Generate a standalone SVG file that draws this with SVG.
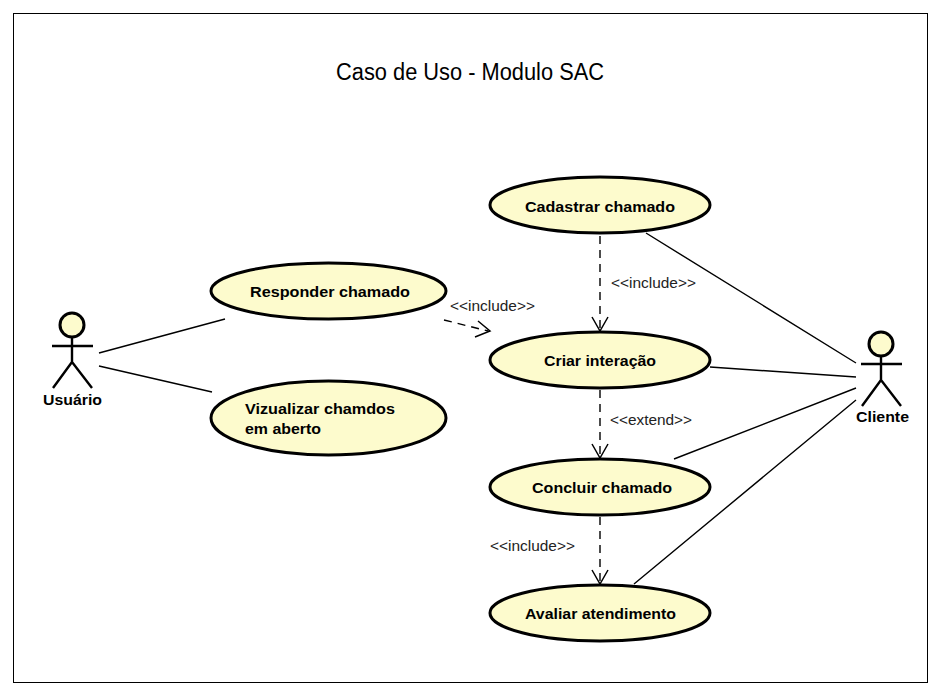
<svg xmlns="http://www.w3.org/2000/svg" width="941" height="694" viewBox="0 0 941 694">
<defs>
<style>
text{font-family:"Liberation Sans",Arial,sans-serif;fill:#000}
.uc{fill:#fdfbcd;stroke:#000;stroke-width:3}
.n{font-size:15.500px;font-weight:bold}
.l{font-size:15px;fill:#222}
.a{stroke:#000;stroke-width:1.4;fill:none}
.d{stroke:#000;stroke-width:1.4;fill:none;stroke-dasharray:8 6}
.h{stroke:#000;stroke-width:1.500;fill:none}
.s{stroke:#000;stroke-width:2.400;fill:none}
</style>
</defs>
<rect width="941" height="694" fill="#fff"/>
<rect x="13.500" y="13.500" width="914" height="669" fill="none" stroke="#000" stroke-width="1"/>
<text x="336" y="80" font-size="23" textLength="268" lengthAdjust="spacingAndGlyphs">Caso de Uso - Modulo SAC</text>
<g id="connectors">
<path class="a" d="M99 353L225 319M99 366L212 392M646 233L856 363M710 367L856 377M674 459L856 388M634 584L856 400"/>
<path class="d" d="M444 320L488 331M600 236V330M600 390V456M600 517V582"/>
<path class="h" d="M478 321L490 331L475 337M592 317L600 331L608 317M592 444L600 458L608 444M592 570L600 584L608 570"/>
<text class="l" x="450" y="311" textLength="85" lengthAdjust="spacingAndGlyphs">&lt;&lt;include&gt;&gt;</text>
<text class="l" x="611" y="288" textLength="85" lengthAdjust="spacingAndGlyphs">&lt;&lt;include&gt;&gt;</text>
<text class="l" x="610" y="425" textLength="82" lengthAdjust="spacingAndGlyphs">&lt;&lt;extend&gt;&gt;</text>
<text class="l" x="490" y="551" textLength="85" lengthAdjust="spacingAndGlyphs">&lt;&lt;include&gt;&gt;</text>
</g>
<g id="usuario">
<circle class="uc" cx="72" cy="325" r="12"/>
<path class="s" d="M72 337V362M52 346H93M72 362L53 388M72 362L92 388"/>
<text class="n" x="43" y="405" textLength="59" lengthAdjust="spacingAndGlyphs">Usuário</text>
</g>
<g id="cliente">
<circle class="uc" cx="881" cy="344" r="12"/>
<path class="s" d="M881 356V380M861 364H902M881 380L862 406M881 380L901 406"/>
<text class="n" x="856" y="422" textLength="53" lengthAdjust="spacingAndGlyphs">Cliente</text>
</g>
<g id="responder">
<ellipse class="uc" cx="328.500" cy="291" rx="117.500" ry="28"/>
<text class="n" x="250" y="297" textLength="160" lengthAdjust="spacingAndGlyphs">Responder chamado</text>
</g>
<g id="vizualizar">
<ellipse class="uc" cx="328.500" cy="418" rx="117.500" ry="37"/>
<text class="n" x="245" y="414" textLength="150" lengthAdjust="spacingAndGlyphs">Vizualizar chamdos</text>
<text class="n" x="245" y="434" textLength="76" lengthAdjust="spacingAndGlyphs">em aberto</text>
</g>
<g id="cadastrar">
<ellipse class="uc" cx="600" cy="205" rx="110" ry="28"/>
<text class="n" x="525" y="212" textLength="150" lengthAdjust="spacingAndGlyphs">Cadastrar chamado</text>
</g>
<g id="criar">
<ellipse class="uc" cx="600" cy="360" rx="110" ry="28"/>
<text class="n" x="544" y="366" textLength="112" lengthAdjust="spacingAndGlyphs">Criar interação</text>
</g>
<g id="concluir">
<ellipse class="uc" cx="600" cy="487" rx="110" ry="28"/>
<text class="n" x="532" y="493" textLength="140" lengthAdjust="spacingAndGlyphs">Concluir chamado</text>
</g>
<g id="avaliar">
<ellipse class="uc" cx="600" cy="613" rx="110" ry="28"/>
<text class="n" x="525" y="619" textLength="151" lengthAdjust="spacingAndGlyphs">Avaliar atendimento</text>
</g>
</svg>
